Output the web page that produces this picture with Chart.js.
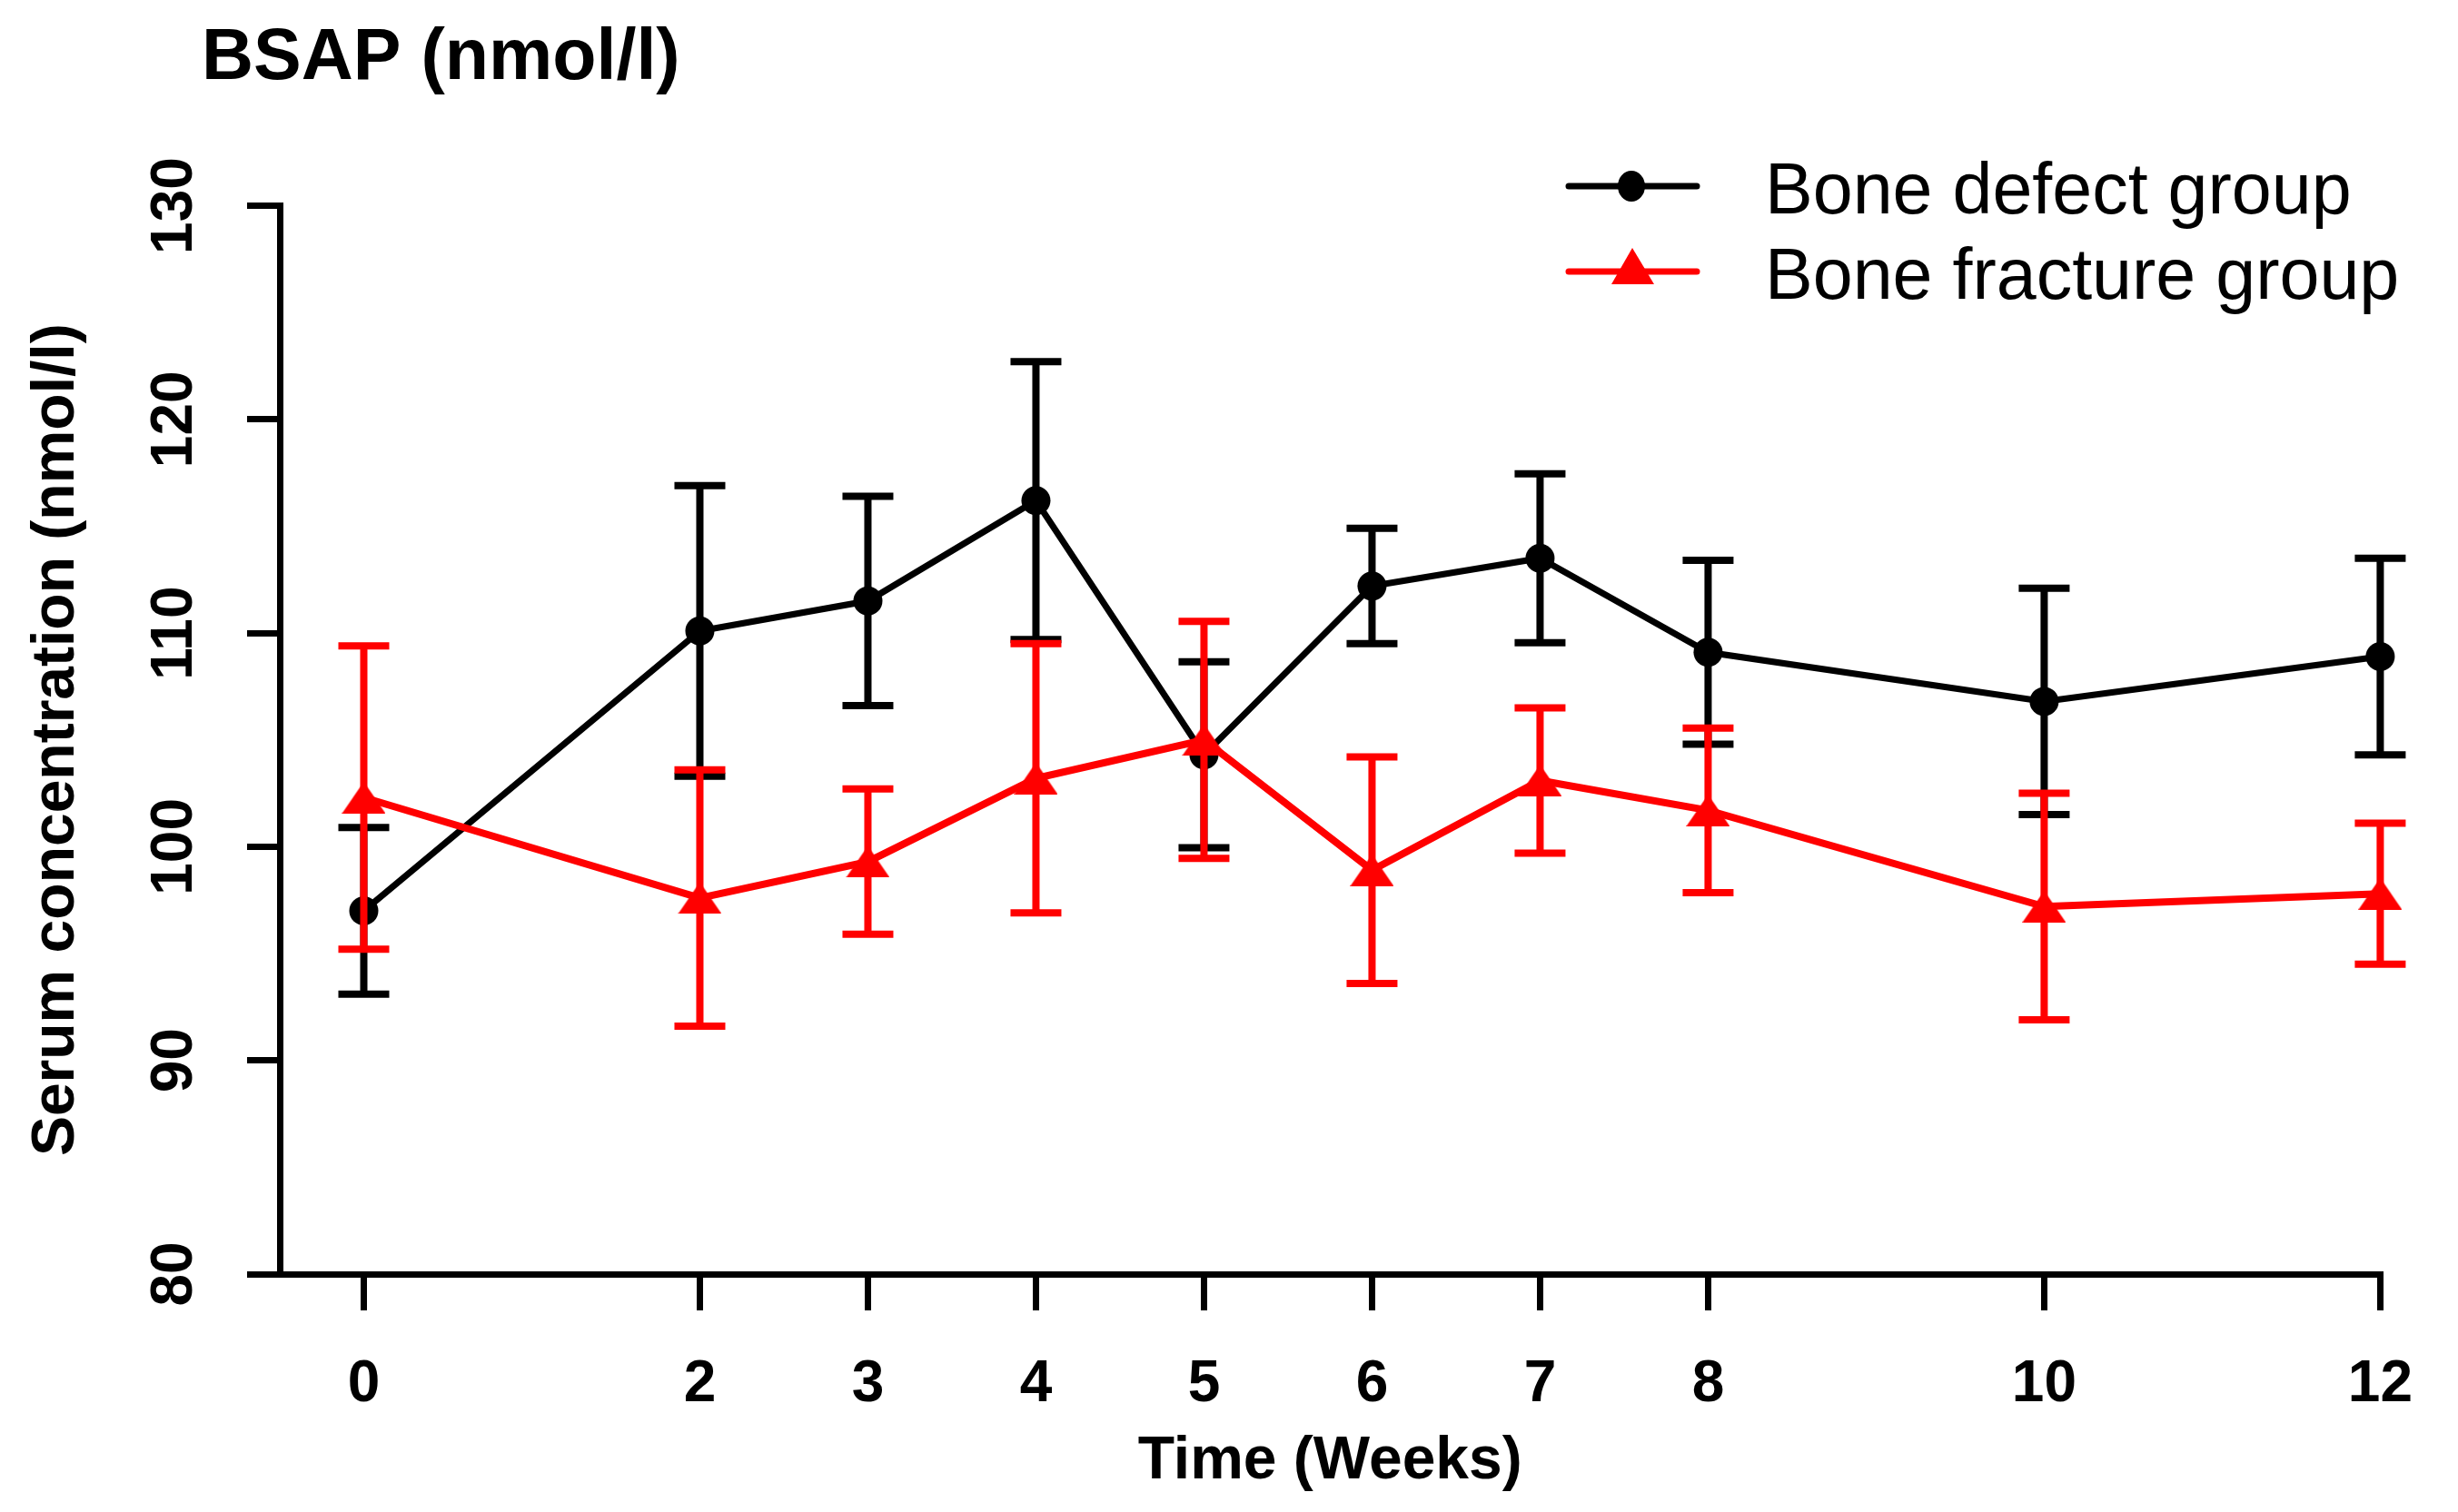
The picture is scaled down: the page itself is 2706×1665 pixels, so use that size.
<!DOCTYPE html>
<html>
<head>
<meta charset="utf-8">
<title>BSAP (nmol/l)</title>
<script src="https://cdn.jsdelivr.net/npm/chart.js@4.4.1/dist/chart.umd.min.js"></script>
<style>
    html, body { margin: 0; padding: 0; background: #fff; }
    #wrap { width: 2706px; height: 1665px; position: relative; }
</style>
</head>
<body>
<div id="wrap"><canvas id="bsapChart"></canvas></div>
<script>
// data
const weeks = [0, 2, 3, 4, 5, 6, 7, 8, 10, 12];
const yTicks = [80, 90, 100, 110, 120, 130];

const defectMean = [97.0, 110.1, 111.5, 116.2, 104.3, 112.2, 113.5, 109.1, 106.8, 108.9];
const defectSD = [3.9, 6.8, 4.9, 6.5, 4.35, 2.7, 3.95, 4.3, 5.3, 4.6];

const fractureMean = [102.3, 97.6, 99.3, 103.2, 105.0, 98.9, 103.1, 101.7, 97.2, 97.8];
const fractureSD = [7.1, 6.0, 3.4, 6.3, 5.55, 5.3, 3.4, 3.85, 5.3, 3.3];

const seriesNames = ["Bone defect group", "Bone fracture group"];
const FONT = "'Liberation Sans', Arial, Helvetica, sans-serif";

Chart.defaults.font.family = FONT;
Chart.defaults.color = "#000";

// the R style triangle is a bit flatter than chart.js's equilateral one
function makeTriangle(w, h, color) {
    const c = document.createElement("canvas");
    c.width = w;
    c.height = h;
    const g = c.getContext("2d");
    g.fillStyle = color;
    g.beginPath();
    g.moveTo(w / 2, 0);
    g.lineTo(w, h);
    g.lineTo(0, h);
    g.closePath();
    g.fill();
    return c;
}
const redTriangle = makeTriangle(48, 35, "#ff0000");

// vertical error bars with caps, drawn under each dataset's line
const errorBars = {
    id: "errorBars",
    beforeDatasetDraw(chart, args) {
        const ds = chart.data.datasets[args.index];
        if (!ds.errors) return;
        const x = chart.scales.x, y = chart.scales.y;
        const ctx = chart.ctx;
        ctx.save();
        ctx.strokeStyle = ds.borderColor;
        ctx.lineWidth = ds.errorWidth;
        ctx.lineCap = "butt";
        ds.data.forEach((p, i) => {
            const px = x.getPixelForValue(p.x);
            const top = y.getPixelForValue(p.y + ds.errors[i]);
            const bot = y.getPixelForValue(p.y - ds.errors[i]);
            ctx.beginPath();
            ctx.moveTo(px, top);
            ctx.lineTo(px, bot);
            ctx.moveTo(px - 28, top);
            ctx.lineTo(px + 28, top);
            ctx.moveTo(px - 28, bot);
            ctx.lineTo(px + 28, bot);
            ctx.stroke();
        });
        ctx.restore();
    }
};

// rotated y tick labels, title and legend
const decorations = {
    id: "decorations",
    afterDraw(chart) {
        const ctx = chart.ctx;
        const y = chart.scales.y;
        ctx.save();
        ctx.fillStyle = "#000";

        ctx.font = "bold 64px " + FONT;
        ctx.textAlign = "center";
        ctx.textBaseline = "middle";
        yTicks.forEach(v => {
            ctx.save();
            ctx.translate(193, y.getPixelForValue(v));
            ctx.rotate(-Math.PI / 2);
            ctx.fillText(String(v), 0, 0);
            ctx.restore();
        });

        ctx.font = "bold 79px " + FONT;
        ctx.textAlign = "left";
        ctx.textBaseline = "alphabetic";
        ctx.fillText("BSAP (nmol/l)", 222, 87);

        // legend
        const rows = [205, 299];
        chart.data.datasets.slice().sort((a, b) => a.legendIndex - b.legendIndex).forEach((ds, i) => {
            const ly = rows[i];
            ctx.strokeStyle = ds.borderColor;
            ctx.fillStyle = ds.borderColor;
            ctx.lineWidth = 7;
            ctx.lineCap = "round";
            ctx.beginPath();
            ctx.moveTo(1727, ly);
            ctx.lineTo(1868, ly);
            ctx.stroke();
            ctx.beginPath();
            if (ds.pointStyle === "circle") {
                ctx.ellipse(1796, ly, 15, 17, 0, 0, Math.PI * 2);
            } else {
                ctx.moveTo(1797, ly - 26);
                ctx.lineTo(1821, ly + 14);
                ctx.lineTo(1774, ly + 14);
                ctx.closePath();
            }
            ctx.fill();
            ctx.fillStyle = "#000";
            ctx.font = "79px " + FONT;
            ctx.textAlign = "left";
            ctx.textBaseline = "alphabetic";
            ctx.fillText(seriesNames[ds.legendIndex], 1943, ly + 30);
        });
        ctx.restore();
    }
};

const ctx = document.getElementById("bsapChart").getContext("2d");
new Chart(ctx, {
    type: "line",
    data: {
        datasets: [{
            label: seriesNames[1],
            legendIndex: 1,
            data: weeks.map((w, i) => ({ x: w, y: fractureMean[i] })),
            errors: fractureSD,
            errorWidth: 8,
            borderColor: "#ff0000",
            backgroundColor: "#ff0000",
            borderWidth: 8,
            pointStyle: redTriangle,
            pointRadius: 24,
            pointBorderWidth: 0,
            tension: 0,
            fill: false,
            clip: false,
            order: 0
        }, {
            label: seriesNames[0],
            legendIndex: 0,
            data: weeks.map((w, i) => ({ x: w, y: defectMean[i] })),
            errors: defectSD,
            errorWidth: 8,
            borderColor: "#000000",
            backgroundColor: "#000000",
            borderWidth: 7,
            pointStyle: "circle",
            pointRadius: 16,
            pointBorderWidth: 0,
            tension: 0,
            fill: false,
            clip: false,
            order: 1
        }]
    },
    options: {
        responsive: true,
        maintainAspectRatio: false,
        devicePixelRatio: 1,
        animation: false,
        layout: {
            padding: { top: 226.5, right: 73, bottom: 0, left: 0 }
        },
        scales: {
            x: {
                type: "linear",
                min: -0.5,
                max: 12,
                afterBuildTicks: scale => {
                    scale.ticks = weeks.map(w => ({ value: w }));
                },
                afterFit: scale => { scale.height = 262; },
                border: { display: true, color: "#000", width: 7 },
                grid: {
                    drawOnChartArea: false,
                    drawTicks: true,
                    tickLength: 40,
                    color: "#000",
                    lineWidth: 7
                },
                ticks: {
                    padding: 50,
                    color: "#000",
                    font: { size: 64, weight: "bold", lineHeight: 1 },
                    maxRotation: 0,
                    callback: v => String(v)
                },
                title: {
                    display: true,
                    text: "Time (Weeks)",
                    color: "#000",
                    font: { size: 66, weight: "bold", lineHeight: 1 },
                    padding: { top: 0, bottom: 22 }
                }
            },
            y: {
                min: 80,
                max: 130,
                afterBuildTicks: scale => {
                    scale.ticks = yTicks.map(v => ({ value: v }));
                },
                afterFit: scale => { scale.width = 308; },
                border: { display: true, color: "#000", width: 7 },
                grid: {
                    drawOnChartArea: false,
                    drawTicks: true,
                    tickLength: 36,
                    color: "#000",
                    lineWidth: 7
                },
                ticks: { display: false },
                title: {
                    display: true,
                    text: "Serum concentration (nmol/l)",
                    color: "#000",
                    font: { size: 66, weight: "bold", lineHeight: 1 },
                    padding: { top: 30, bottom: 0 }
                }
            }
        },
        plugins: {
            legend: { display: false },
            title: { display: false },
            tooltip: { enabled: false }
        }
    },
    plugins: [errorBars, decorations]
});
</script>
</body>
</html>
